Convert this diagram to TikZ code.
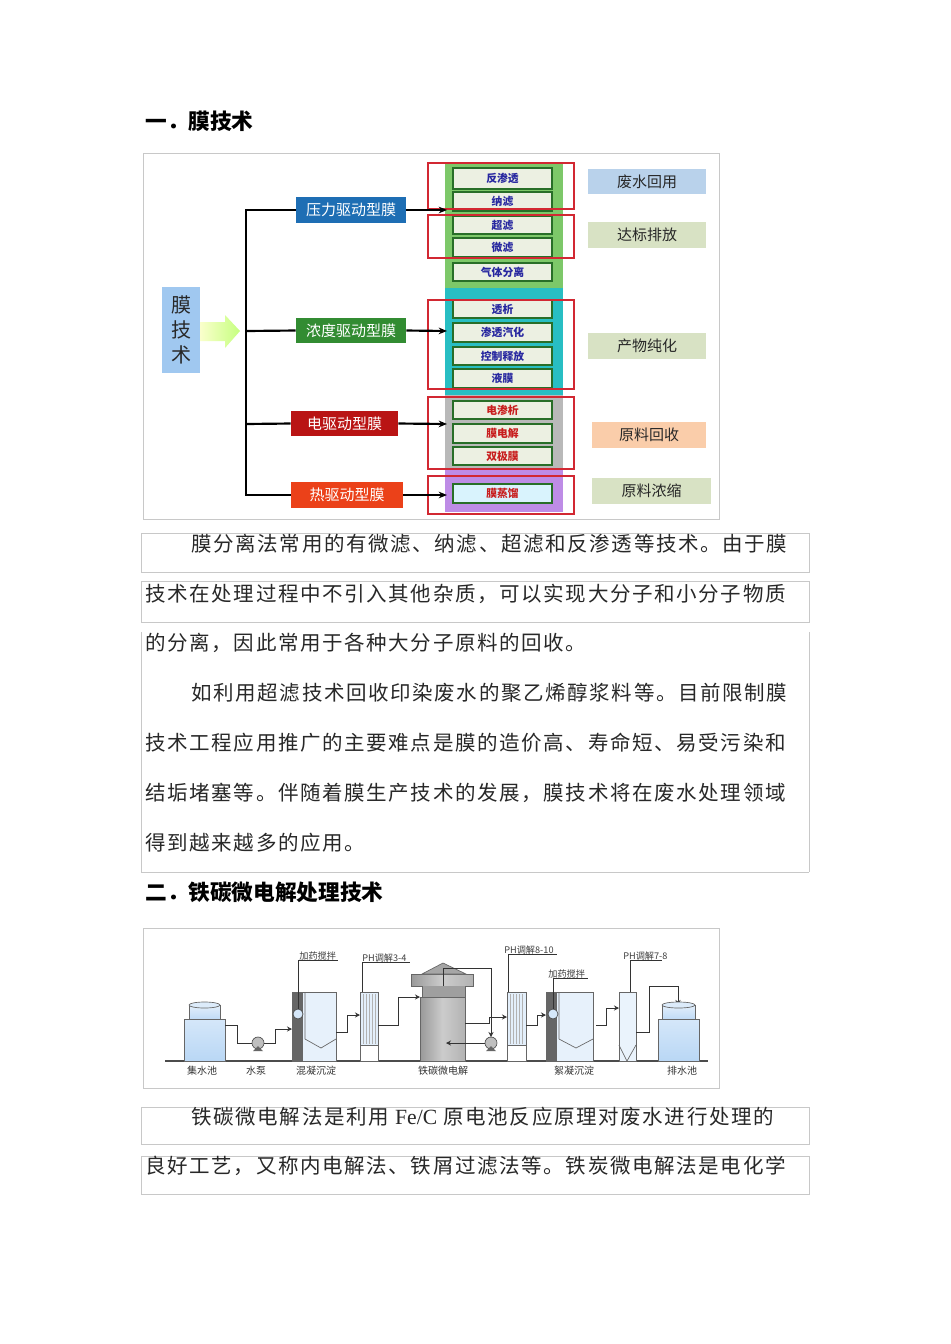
\documentclass[tikz,border=0pt]{standalone}
\usepackage{fontspec}
\setmainfont{Liberation Serif}
\newfontfamily\cjk{Noto Sans CJK SC}
\newfontfamily\cjkb{Noto Sans CJK SC}[LetterSpace=8]
\usetikzlibrary{arrows.meta}
\definecolor{lblue}{RGB}{160,200,240}
\definecolor{pblue}{RGB}{30,110,180}
\definecolor{pgreen}{RGB}{50,140,50}
\definecolor{pdred}{RGB}{185,20,20}
\definecolor{pred}{RGB}{235,65,25}
\definecolor{cgreen}{RGB}{125,200,105}
\definecolor{cteal}{RGB}{40,190,195}
\definecolor{cgray}{RGB}{185,185,185}
\definecolor{cpurp}{RGB}{190,140,230}
\definecolor{ibox}{RGB}{236,240,226}
\definecolor{iedge}{RGB}{40,110,40}
\definecolor{itxtb}{RGB}{40,40,160}
\definecolor{itxtr}{RGB}{200,30,30}
\definecolor{rbox}{RGB}{210,40,50}
\definecolor{rl1}{RGB}{185,210,235}
\definecolor{rl2}{RGB}{216,226,196}
\definecolor{rl3}{RGB}{250,205,170}
\definecolor{frm}{RGB}{200,200,200}
\definecolor{tank}{RGB}{185,215,245}
\definecolor{txt}{RGB}{40,40,40}
\newcommand\bx[7]{\pgfmathsetmacro\bw{(#4-#2)*0.6}\pgfmathsetmacro\bh{(#5-#3)*0.6}\node[#6,minimum width=\bw pt,minimum height=\bh pt,inner sep=0pt] (#1) at ({(#2+#4)/2},{(#3+#5)/2}) {#7};}
\tikzset{
 typebox/.style={text=white,font=\cjk\fontsize{9}{10}\selectfont},
 inbox/.style={fill=ibox,draw=iedge,line width=0.8pt,font=\cjk\bfseries\fontsize{6.5}{7}\selectfont},
 redbox/.style={draw=rbox,line width=0.9pt},
 rlab/.style={font=\cjk\fontsize{9}{10}\selectfont,text=txt},
 conn/.style={line width=1.3pt,black},
 arr/.style={conn,-{Stealth[length=5pt,width=4pt]}},
 para/.style={anchor=west,inner sep=0pt,font=\cjkb\fontsize{12.3}{14}\selectfont,text=txt},
 head/.style={anchor=west,inner sep=0pt,font=\cjk\bfseries\fontsize{13}{14}\selectfont},
 pipe/.style={line width=0.6pt,black!80},
 parr/.style={pipe,-{Stealth[length=3pt,width=3pt]}},
 slab/.style={font=\cjk\fontsize{5.5}{6}\selectfont,inner sep=0pt,text=black!75},
 blab/.style={font=\cjk\fontsize{6}{7}\selectfont,inner sep=0pt,text=black!80},
}
\begin{document}
\begin{tikzpicture}[x=0.6pt,y=-0.6pt]
\useasboundingbox[fill=white] (0,0) rectangle (950,1344);
% headings
\node[head] (h1) at (145,121) {一．膜技术};
\node[head] (h2) at (145,892) {二．铁碳微电解处理技术};
% ===== diagram 1 =====
\draw[frm,line width=0.6pt] (143,153) rectangle (719,519);
\bx{mjs}{162}{287}{200}{373}{fill=lblue,align=center,font=\cjk\fontsize{12}{15}\selectfont,text=txt}{膜\\技\\术}
\shade[left color=green!10!yellow!20,right color=green!45!yellow!50] (200,322)--(225,322)--(225,315)--(240,331)--(225,348)--(225,341)--(200,341)--cycle;
% column backgrounds
\fill[cgreen] (445,163) rectangle (563,288);
\fill[cteal] (445,288) rectangle (563,395);
\fill[cgray] (445,395) rectangle (563,470);
\fill[cpurp] (445,470) rectangle (563,512);
% inner boxes
\bx{i1}{453}{168}{552}{189}{inbox,text=itxtb}{反渗透}
\bx{i2}{453}{192}{552}{211}{inbox,text=itxtb}{纳滤}
\bx{i3}{453}{216}{552}{234}{inbox,text=itxtb}{超滤}
\bx{i4}{453}{238}{552}{257}{inbox,text=itxtb}{微滤}
\bx{i5}{453}{263}{552}{281}{inbox,text=itxtb}{气体分离}
\bx{i6}{453}{300}{552}{318}{inbox,text=itxtb}{透析}
\bx{i7}{453}{323}{552}{342}{inbox,text=itxtb}{渗透汽化}
\bx{i8}{453}{347}{552}{365}{inbox,text=itxtb}{控制释放}
\bx{i9}{453}{369}{552}{388}{inbox,text=itxtb}{液膜}
\bx{i10}{453}{401}{552}{419}{inbox,text=itxtr}{电渗析}
\bx{i11}{453}{424}{552}{443}{inbox,text=itxtr}{膜电解}
\bx{i12}{453}{447}{552}{465}{inbox,text=itxtr}{双极膜}
\bx{i13}{453}{484}{552}{503}{inbox,fill=cyan!15,text=itxtr}{膜蒸馏}
% red boxes
\draw[redbox] (428,163) rectangle (574,209);
\draw[redbox] (428,215) rectangle (574,258);
\draw[redbox] (428,300) rectangle (574,389);
\draw[redbox] (428,397) rectangle (574,469);
\draw[redbox] (428,476) rectangle (574,514);
% type boxes
\bx{t1}{296}{197}{406}{223}{typebox,fill=pblue}{压力驱动型膜}
\bx{t2}{296}{318}{406}{343}{typebox,fill=pgreen}{浓度驱动型膜}
\bx{t3}{291}{411}{398}{436}{typebox,fill=pdred}{电驱动型膜}
\bx{t4}{291}{482}{403}{508}{typebox,fill=pred}{热驱动型膜}
\coordinate (vt) at (246,210);
\coordinate (vb) at (246,495);
\draw[conn] (t1.west) -| (vt) -- (vb) -- (t4.west);
\draw[conn] (246,331) -- (t2.west);
\draw[conn] (246,424) -- (t3.west);
\coordinate (a1) at (447,210);
\coordinate (a2) at (447,331);
\coordinate (a3) at (447,424);
\coordinate (a4) at (447,495);
\draw[arr] (t1.east) -- (a1);
\draw[arr] (t2.east) -- (a2);
\draw[arr] (t3.east) -- (a3);
\draw[arr] (t4.east) -- (a4);
% right labels
\bx{r1}{588}{169}{706}{194}{rlab,fill=rl1}{废水回用}
\bx{r2}{588}{222}{706}{248}{rlab,fill=rl2}{达标排放}
\bx{r3}{588}{333}{706}{359}{rlab,fill=rl2}{产物纯化}
\bx{r4}{592}{422}{706}{448}{rlab,fill=rl3}{原料回收}
\bx{r5}{592}{478}{711}{504}{rlab,fill=rl2}{原料浓缩}
% ===== paragraph 1 =====
\draw[frm,line width=0.5pt] (141,533) rectangle (809,572);
\draw[frm,line width=0.5pt] (141,581) rectangle (809,622);
\draw[frm,line width=0.5pt] (141,872) -- (141,632) (809,632) -- (809,872) (141,872) -- (809,872);
\node[para] (p1) at (191,544) {膜分离法常用的有微滤、纳滤、超滤和反渗透等技术。由于膜};
\node[para] (p2) at (145,594) {技术在处理过程中不引入其他杂质，可以实现大分子和小分子物质};
\node[para] (p3) at (145,643) {的分离，因此常用于各种大分子原料的回收。};
\node[para] (p4) at (191,693) {如利用超滤技术回收印染废水的聚乙烯醇浆料等。目前限制膜};
\node[para] (p5) at (145,743) {技术工程应用推广的主要难点是膜的造价高、寿命短、易受污染和};
\node[para] (p6) at (145,793) {结垢堵塞等。伴随着膜生产技术的发展，膜技术将在废水处理领域};
\node[para] (p7) at (145,843) {得到越来越多的应用。};
% ===== diagram 2 =====
\draw[frm,line width=0.6pt] (143,928) rectangle (719,1088);
\draw[line width=0.7pt,black!70] (165,1061) -- (708,1061);
% 集水池
\shade[top color=tank!60,bottom color=tank] (184,1019) rectangle (225,1061);
\draw[black!60,line width=0.4pt] (184,1019) rectangle (225,1061);
\shade[top color=tank!40,bottom color=tank!90] (189,1005) rectangle (220,1019);
\draw[black!60,line width=0.4pt] (189,1005) rectangle (220,1019);
\fill[tank!50,draw=black!60,line width=0.4pt] (204.5,1005) ellipse (15.5 and 3);
% pump 1
\fill[gray!50,draw=black!70,line width=0.4pt] (258,1043) circle (6);
\fill[black!60] (253,1051) -- (263,1051) -- (258,1046) -- cycle;
\draw[pipe] (225,1025) -- (237,1025) -- (237,1043) -- (252,1043);
\draw[parr] (264,1043) -- (275,1043) -- (275,1029) -- (292,1029);
% 混凝沉淀
\fill[tank!35,draw=black!60,line width=0.4pt] (292,992) rectangle (336,1061);
\fill[black!60] (292,992) rectangle (303,1061);
\draw[black!60,line width=0.4pt] (305,1039) -- (321,1048) -- (336,1039) (305,992) -- (305,1039);
\fill[tank!60,draw=black!70,line width=0.4pt] (298,1014) circle (5);
\draw[pipe] (298,1009) -- (298,960) -- (338,960);
\node[slab,anchor=south west] (l1) at (299,961) {加药搅拌};
\draw[parr] (336,1032) -- (347,1032) -- (347,1015) -- (360,1015);
% filter 1
\fill[white,draw=black!60,line width=0.4pt] (360,992) rectangle (378,1061);
\fill[tank!40] (360,992) rectangle (378,1045);
\foreach \xx in {363,366,...,376} \draw[black!30,line width=0.3pt] (\xx,994) -- (\xx,1044);
\draw[black!60,line width=0.4pt] (360,992) rectangle (378,1061) (360,1045) -- (378,1045);
\draw[pipe] (362,992) -- (362,962) -- (410,962);
\node[slab,anchor=south west] (l2) at (362,963) {PH调解3-4};
\draw[parr] (378,1025) -- (398,1025) -- (398,997) -- (420,997);
% reactor
\shade[left color=gray!80,right color=gray!60,middle color=gray!40] (420,997) rectangle (465,1061);
\draw[black!60,line width=0.4pt] (420,997) rectangle (465,1061);
\shade[left color=gray!80,right color=gray!60,middle color=gray!40] (411,974) rectangle (473,986);
\draw[black!60,line width=0.4pt] (411,974) rectangle (473,986);
\fill[gray!70,draw=black!60,line width=0.4pt] (422,974) -- (443,963) -- (466,974) -- cycle;
\fill[gray!75] (422,986) rectangle (465,997);
\draw[black!60,line width=0.4pt] (422,986) -- (422,997) (465,986) -- (465,997);
% pump 2
\fill[gray!50,draw=black!70,line width=0.4pt] (491,1043) circle (6);
\fill[black!60] (486,1051) -- (496,1051) -- (491,1046) -- cycle;
\draw[parr] (443,986) -- (443,968) -- (491,968) -- (491,1037);
\draw[parr] (485,1043) -- (446,1043);
\draw[parr] (465,1023) -- (489,1023) -- (489,1017) -- (507,1017);
% filter 2
\fill[white] (507,992) rectangle (526,1061);
\fill[tank!40] (507,992) rectangle (526,1045);
\foreach \xx in {510,513,...,524} \draw[black!30,line width=0.3pt] (\xx,994) -- (\xx,1044);
\draw[black!60,line width=0.4pt] (507,992) rectangle (526,1061) (507,1045) -- (526,1045);
\draw[pipe] (508,992) -- (508,954) -- (557,954);
\node[slab,anchor=south west] (l3) at (504,955) {PH调解8-10};
\draw[parr] (526,1025) -- (537,1025) -- (537,1015) -- (546,1015);
% 絮凝沉淀
\fill[tank!35,draw=black!60,line width=0.4pt] (546,992) rectangle (593,1061);
\fill[black!60] (546,992) rectangle (557,1061);
\draw[black!60,line width=0.4pt] (559,1039) -- (576,1048) -- (593,1039) (559,992) -- (559,1039);
\fill[tank!60,draw=black!70,line width=0.4pt] (553,1014) circle (5);
\draw[pipe] (553,1009) -- (553,978) -- (588,978);
\node[slab,anchor=south west] (l4) at (548,979) {加药搅拌};
\draw[parr] (596,1025) -- (606,1025) -- (606,1008) -- (619,1008);
% tower
\fill[tank!30,draw=black!60,line width=0.4pt] (619,992) rectangle (636,1061);
\draw[black!60,line width=0.4pt] (619,1045) -- (627,1061) -- (636,1045);
\draw[pipe] (630,992) -- (630,960) -- (662,960);
\node[slab,anchor=south west] (l5) at (623,961) {PH调解7-8};
\draw[parr] (636,1032) -- (649,1032) -- (649,986) -- (678,986) -- (678,1005);
% 排水池
\shade[top color=tank!60,bottom color=tank] (658,1019) rectangle (699,1061);
\draw[black!60,line width=0.4pt] (658,1019) rectangle (699,1061);
\shade[top color=tank!40,bottom color=tank!90] (662,1005) rectangle (695,1019);
\draw[black!60,line width=0.4pt] (662,1005) rectangle (695,1019);
\fill[tank!50,draw=black!60,line width=0.4pt] (678.5,1005) ellipse (16.5 and 3);
% bottom labels
\node[blab] (b1) at (202,1071) {集水池};
\node[blab] (b2) at (256,1071) {水泵};
\node[blab] (b3) at (316,1071) {混凝沉淀};
\node[blab] (b4) at (443,1071) {铁碳微电解};
\node[blab] (b5) at (574,1071) {絮凝沉淀};
\node[blab] (b6) at (682,1071) {排水池};
% ===== paragraph 2 =====
\draw[frm,line width=0.5pt] (141,1107) rectangle (809,1144);
\draw[frm,line width=0.5pt] (141,1156) rectangle (809,1194);
\node[para] (q1) at (191,1117) {铁碳微电解法是利用 {\rmfamily\fontsize{13}{14}\selectfont Fe/C} 原电池反应原理对废水进行处理的};
\node[para] (q2) at (145,1166) {良好工艺，又称内电解法、铁屑过滤法等。铁炭微电解法是电化学};
\end{tikzpicture}
\end{document}
